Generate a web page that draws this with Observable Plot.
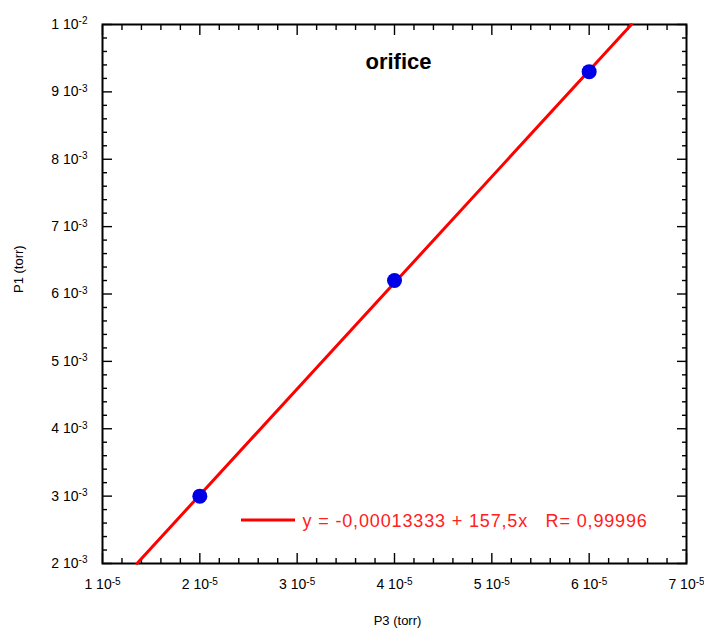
<!DOCTYPE html>
<html><head><meta charset="utf-8">
<script src="https://cdn.jsdelivr.net/npm/d3@7"></script>
<script src="https://cdn.jsdelivr.net/npm/@observablehq/plot@0.6"></script>
<style>body{margin:0;background:#fff}</style>
</head><body><div id="chart"></div>
<script>
// Data
const pressureP3 = [2e-5, 4e-5, 6e-5];
const pressureP1 = [3.0e-3, 6.2e-3, 9.3e-3];
// Fit line end points (where the fitted line meets the frame)
const fitP3 = [1.3545e-5, 6.434e-5];
const fitP1 = [2e-3, 1e-2];

const xTickValues = [1e-5, 2e-5, 3e-5, 4e-5, 5e-5, 6e-5, 7e-5];
const xTickLabels = ["1 10^-5", "2 10^-5", "3 10^-5", "4 10^-5", "5 10^-5", "6 10^-5", "7 10^-5"];
const yTickValues = [0.002, 0.003, 0.004, 0.005, 0.006, 0.007, 0.008, 0.009, 0.01];
const yTickLabels = ["2 10^-3", "3 10^-3", "4 10^-3", "5 10^-3", "6 10^-3", "7 10^-3", "8 10^-3", "9 10^-3", "1 10^-2"];

const titleText = "orifice";
const legendText = "y = -0,00013333 + 157,5x   R= 0,99996";
const xLabel = "P3 (torr)";
const yLabel = "P1 (torr)";

const xMinor = d3.range(5, 36).filter(i => i % 5 !== 0).map(i => i * 2e-6);
const yMinor = d3.range(10, 51).filter(i => i % 5 !== 0).map(i => i * 2e-4);

const lookup = (vals, labels) => d => labels[vals.findIndex(v => Math.abs(v - d) < 1e-12)];
const font = "'Liberation Sans', Arial, Helvetica, sans-serif";

const tickAxes = [];
for (const anchor of ["bottom", "top"]) {
  tickAxes.push(Plot.axisX(xTickValues, {anchor, tickSize: -10, fill: "none", strokeWidth: 1.4, label: null}));
  tickAxes.push(Plot.axisX(xMinor, {anchor, tickSize: -5, fill: "none", strokeWidth: 1.4, label: null}));
}
for (const anchor of ["left", "right"]) {
  tickAxes.push(Plot.axisY(yTickValues, {anchor, tickSize: -10, fill: "none", strokeWidth: 1.4, label: null}));
  tickAxes.push(Plot.axisY(yMinor, {anchor, tickSize: -5, fill: "none", strokeWidth: 1.4, label: null}));
}

const chart = Plot.plot({
  width: 704,
  height: 628,
  marginLeft: 102,
  marginRight: 18,
  marginTop: 24,
  marginBottom: 65,
  style: {fontFamily: font, background: "white", color: "black"},
  x: {type: "linear", domain: [1e-5, 7e-5]},
  y: {type: "linear", domain: [0.002, 0.01]},
  marks: [
    Plot.axisX(xTickValues, {anchor: "bottom", tickSize: 0, tickPadding: 16, tickFormat: lookup(xTickValues, xTickLabels), fontSize: 14, label: null}),
    Plot.axisY(yTickValues, {anchor: "left", tickSize: 0, tickPadding: 15, tickFormat: lookup(yTickValues, yTickLabels), fontSize: 14, label: null}),
    ...tickAxes,
    Plot.frame({stroke: "black", strokeWidth: 2}),
    Plot.line(fitP3, {x: fitP3, y: fitP1, stroke: "#ff0000", strokeWidth: 3}),
    Plot.dot(pressureP3, {x: pressureP3, y: pressureP1, r: 7.5, fill: "#0000e6", stroke: null}),
    Plot.text([titleText], {frameAnchor: "top", dx: 4, dy: 29, fontSize: 22, fontWeight: "bold", fill: "black"}),
    Plot.text([xLabel], {frameAnchor: "bottom", dx: 3, dy: 61, fontSize: 13, fill: "black"}),
    Plot.text([yLabel], {frameAnchor: "left", dx: -84, dy: -1, rotate: -90, fontSize: 13, fill: "black"}),
    Plot.text([legendText], {frameAnchor: "bottom-left", dx: 200, dy: -37, textAnchor: "start", fill: "#ff2020", fontSize: 18})
  ]
});

// Superscript exponents in tick labels
d3.select(chart).selectAll("text").each(function() {
  const t = this.textContent;
  if (t.includes("^")) {
    const [base, exp] = t.split("^");
    const el = d3.select(this);
    el.text(null);
    el.append("tspan").text(base);
    el.append("tspan").attr("dy", "-0.45em").attr("font-size", "10px").text(exp);
  }
  if (t === legendText) d3.select(this).attr("letter-spacing", "0.85px");
});

// Legend swatch
d3.select(chart).append("line")
  .attr("x1", 241).attr("x2", 295).attr("y1", 520).attr("y2", 520)
  .attr("stroke", "#ff0000").attr("stroke-width", 3);

document.getElementById("chart").appendChild(chart);
</script>
</body></html>
